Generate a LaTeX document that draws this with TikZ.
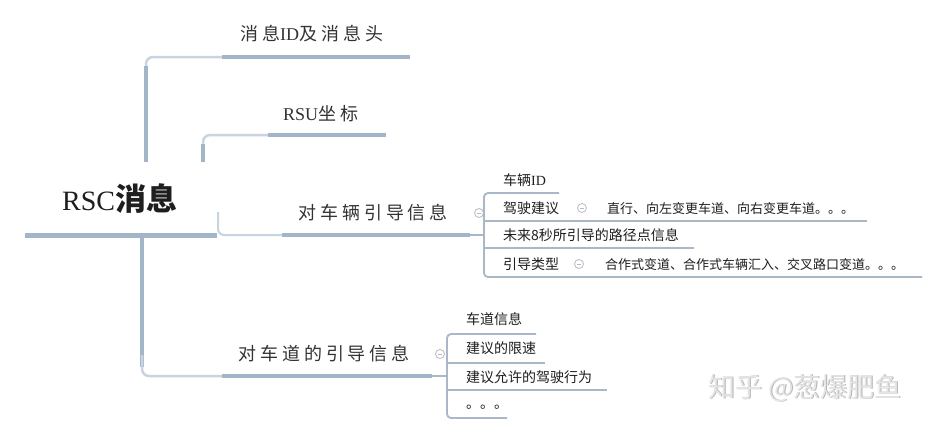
\documentclass[tikz,border=0pt]{standalone}
\usepackage{fontspec}
\setmainfont{Liberation Serif}
\newfontfamily\cjk{Noto Sans CJK SC}
\newfontfamily\cjkw[LetterSpace=22]{Noto Sans CJK SC}
\definecolor{thickc}{HTML}{A3B5C9}
\definecolor{lightc}{HTML}{C8D4E0}
\definecolor{subc}{HTML}{A9B7C6}
\definecolor{txtc}{HTML}{333333}
\definecolor{rootc}{HTML}{1E1E1E}
\definecolor{circc}{HTML}{B4BCC6}
\tikzset{
  thickline/.style={draw=thickc, line width=4pt},
  rootline/.style={draw=thickc, line width=5pt},
  vertline/.style={draw=thickc, line width=4pt},
  thinconn/.style={draw=lightc, line width=2.5pt, rounded corners=7pt},
  subline/.style={draw=subc, line width=1.8pt},
  bracket/.style={draw=subc, line width=1.8pt, rounded corners=4pt},
  maintext/.style={inner sep=0pt, anchor=base west, text=txtc, font=\fontsize{18}{20}\selectfont},
  subtext/.style={inner sep=0pt, anchor=base west, text=rootc, font=\fontsize{14}{16}\selectfont\cjk},
  dettext/.style={inner sep=0pt, anchor=base west, text=rootc, font=\fontsize{13}{15}\selectfont\cjk},
  collapse/.style={circle, draw=circc, line width=0.8pt, minimum size=9pt, inner sep=0pt,
    path picture={\draw[circc, line width=0.8pt] ([xshift=-2.2pt]path picture bounding box.center) -- ([xshift=2.2pt]path picture bounding box.center);}},
  wmark/.style={inner sep=0pt, anchor=base west, font=\fontsize{27}{29}\selectfont\cjk}
}
\begin{document}
\begin{tikzpicture}[x=1pt,y=-1pt]
\useasboundingbox[fill=white] (0,0) rectangle (933,426);

% ---- root ----
\node[inner sep=0pt, anchor=base west, text=rootc] (root) at (62,210)
  {\fontsize{28}{30}\selectfont RSC{\fontsize{31}{33}\selectfont\cjk\bfseries 消息}};
\coordinate (rootL) at (25,235);
\coordinate (rootR) at (217,235);
\draw[rootline] (rootL) -- (rootR);

% ---- branch 1: 消息ID及消息头 ----
\node[maintext] (b1) at (240,40) {{\cjkw 消息}ID{\cjkw 及消息头}};
\coordinate (v1b) at (146,162);
\coordinate (v1t) at (146,66);
\coordinate (b1s) at (222,57);
\coordinate (b1e) at (410,57);
\draw[thinconn] (v1b) |- (b1s);
\draw[vertline] (v1b) -- (v1t);
\draw[thickline] (b1s) -- (b1e);

% ---- branch 2: RSU坐标 ----
\node[maintext] (b2) at (283,120) {RSU{\cjkw 坐标}};
\coordinate (v2b) at (203,162);
\coordinate (v2t) at (203,144);
\coordinate (b2s) at (268,135);
\coordinate (b2e) at (386,135);
\draw[thinconn] (v2b) |- (b2s);
\draw[vertline] (v2b) -- (v2t);
\draw[thickline] (b2s) -- (b2e);

% ---- branch 3: 对车辆引导信息 ----
\node[maintext] (b3) at (298,219) {\cjkw 对车辆引导信息};
\coordinate (v3t) at (218,212);
\coordinate (b3s) at (282,235);
\coordinate (b3e) at (470,235);
\draw[draw=lightc, line width=2pt, rounded corners=6pt] (v3t) |- (b3s);
\draw[thickline] (b3s) -- (b3e);
\node[collapse] (c3) at (479,213) {};

\coordinate (k3) at (484,235);
\draw[subline] (b3e) -- (k3);
\coordinate (s31) at (559,193);
\coordinate (s32) at (867,221);
\coordinate (s33) at (694,248);
\coordinate (s34) at (922,277);
\draw[bracket] (s31) -| (k3) |- (s34);
\draw[subline] (s32 -| k3) -- (s32);
\draw[subline] (s33 -| k3) -- (s33);

\node[subtext] (t31) at (503,185) {车辆{\rmfamily ID}};
\node[subtext] (t32) at (503,213) {驾驶建议};
\node[collapse] (c32) at (582,208) {};
\node[dettext] (d32) at (607,213) {直行、向左变更车道、向右变更车道。。。};
\node[subtext] (t33) at (503,240) {未来8秒所引导的路径点信息};
\node[subtext] (t34) at (503,269) {引导类型};
\node[collapse] (c34) at (579,264) {};
\node[dettext] (d34) at (605,269) {合作式变道、合作式车辆汇入、交叉路口变道。。。};

% ---- branch 4: 对车道的引导信息 ----
\node[maintext] (b4) at (238,360) {\cjkw 对车道的引导信息};
\coordinate (v4t) at (142,238);
\coordinate (b4s) at (222,376);
\coordinate (b4e) at (432,376);
\draw[vertline] (v4t) -- (142,367);
\draw[thinconn] (142,355) |- (b4s);
\draw[thickline] (b4s) -- (b4e);
\node[collapse] (c4) at (440,354) {};

\coordinate (k4) at (447,376);
\draw[subline] (b4e) -- (k4);
\coordinate (s41) at (536,334);
\coordinate (s42) at (545,363);
\coordinate (s43) at (607,390);
\coordinate (s44) at (507,418);
\draw[bracket] (s41) -| (k4) |- (s44);
\draw[subline] (s42 -| k4) -- (s42);
\draw[subline] (s43 -| k4) -- (s43);

\node[subtext] (t41) at (466,324) {车道信息};
\node[subtext] (t42) at (466,353) {建议的限速};
\node[subtext] (t43) at (466,382) {建议允许的驾驶行为};
\node[subtext] (t44) at (466,408) {。。。};

% ---- watermark ----
\node[wmark, text=gray!60] (wms) at (708.8,397.8) {知乎 @葱爆肥鱼};
\node[wmark, text=gray!20] (wm) at (708,397) {知乎 @葱爆肥鱼};
\end{tikzpicture}
\end{document}
